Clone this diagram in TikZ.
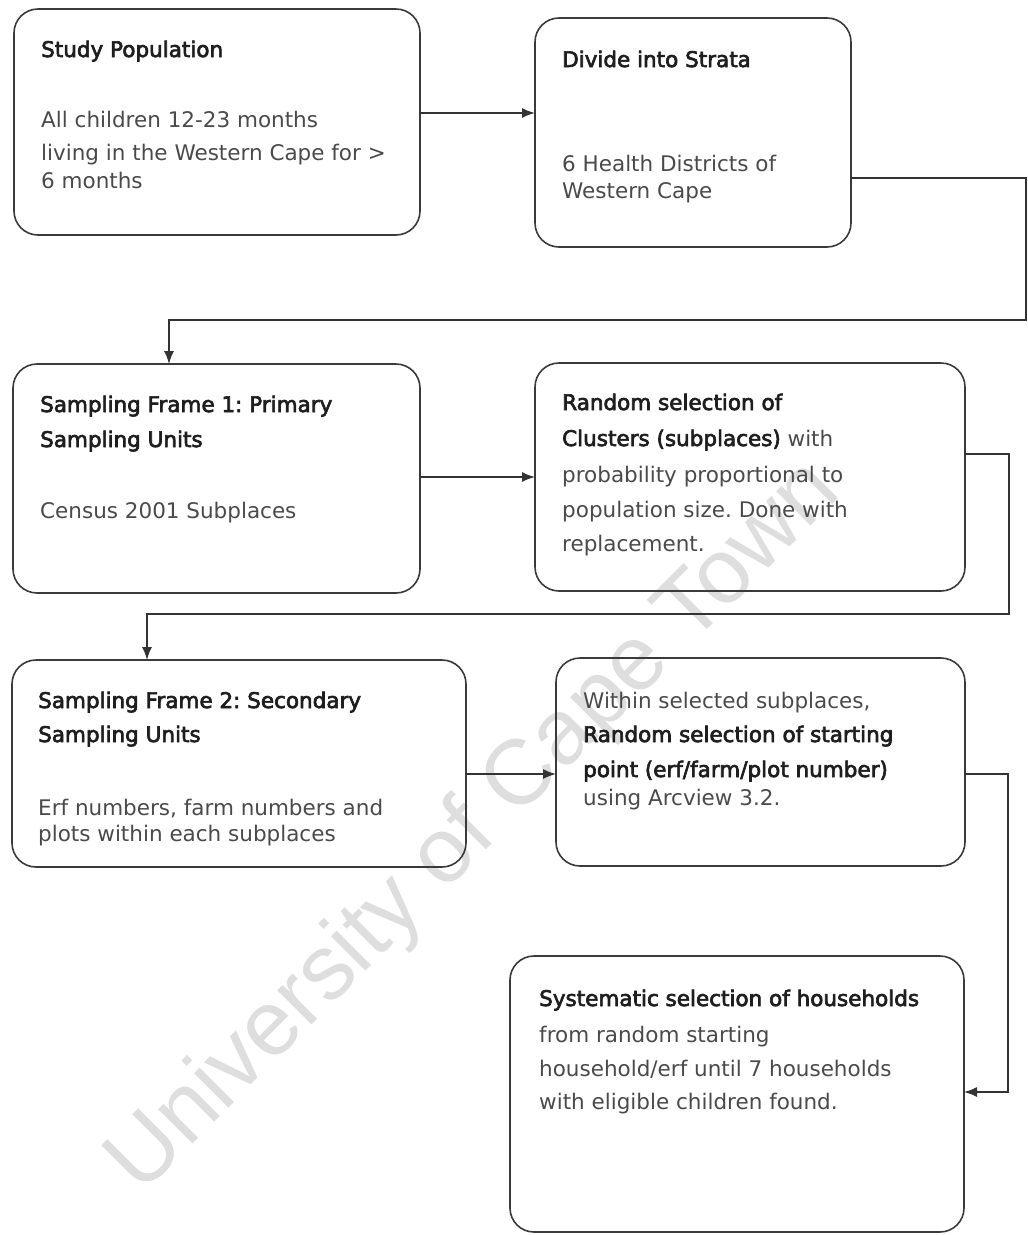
\documentclass[tikz,border=0pt]{standalone}
\usepackage{fontspec}
\setmainfont{DejaVu Sans}
\newfontfamily\tfont[FakeBold=3]{DejaVu Sans}
\newfontfamily\wmfont{Liberation Sans}
\usetikzlibrary{arrows.meta}
\definecolor{boxline}{HTML}{3A3A3A}
\definecolor{conline}{HTML}{333333}
\definecolor{titlecol}{HTML}{1E1E1E}
\definecolor{bodycol}{HTML}{4A4A4A}
\definecolor{wmcol}{HTML}{DEDEDE}
\frenchspacing
\begin{document}
\begin{tikzpicture}[x=1pt,y=-1pt,
  box/.style={draw=boxline, line width=1.6pt, rounded corners=24pt, inner sep=0pt, outer sep=0pt},
  conn/.style={draw=conline, line width=1.5pt, -{Latex[length=13pt,width=10pt]}},
  ttl/.style={anchor=base west, inner sep=0pt, text=titlecol, font=\tfont\fontsize{21.5}{26}\selectfont},
  bdy/.style={anchor=base west, inner sep=0pt, text=bodycol, font=\fontsize{21.5}{26}\selectfont}]
\useasboundingbox (0,0) rectangle (1028,1235);
% watermark
\node[rotate=45, text=wmcol, font=\wmfont\fontsize{92}{100}\selectfont, inner sep=0pt] (wm) at (475,828) {University of Cape Town};
% boxes
\node[box, minimum width=406pt, minimum height=226pt] (b1) at (217,122) {};
\node[box, minimum width=316pt, minimum height=229pt] (b2) at (693,132.5) {};
\node[box, minimum width=407pt, minimum height=229pt] (b3) at (216.5,478.5) {};
\node[box, minimum width=430pt, minimum height=228pt] (b4) at (750,477) {};
\node[box, minimum width=454pt, minimum height=207pt] (b5) at (239,763.5) {};
\node[box, minimum width=409pt, minimum height=208pt] (b6) at (760.5,762) {};
\node[box, minimum width=454pt, minimum height=276pt] (b7) at (737,1094) {};
% texts box 1
\node[ttl] (t1a) at (41,57) {Study Population};
\node[bdy] (t1b) at (41,127) {All children 12-23 months};
\node[bdy] (t1c) at (41,160) {living in the Western Cape for >};
\node[bdy] (t1d) at (41,188) {6 months};
% box 2
\node[ttl] (t2a) at (562,67) {Divide into Strata};
\node[bdy] (t2b) at (562,171) {6 Health Districts of};
\node[bdy] (t2c) at (562,198) {Western Cape};
% box 3
\node[ttl] (t3a) at (40,412) {Sampling Frame 1: Primary};
\node[ttl] (t3b) at (40,447) {Sampling Units};
\node[bdy] (t3c) at (40,518) {Census 2001 Subplaces};
% box 4
\node[ttl] (t4a) at (562,410) {Random selection of};
\node[bdy] (t4b) at (562,446) {{\tfont\color{titlecol}Clusters (subplaces)} with};
\node[bdy] (t4c) at (562,482) {probability proportional to};
\node[bdy] (t4d) at (562,517) {population size. Done with};
\node[bdy] (t4e) at (562,551) {replacement.};
% box 5
\node[ttl] (t5a) at (38,708) {Sampling Frame 2: Secondary};
\node[ttl] (t5b) at (38,742) {Sampling Units};
\node[bdy] (t5c) at (38,815) {Erf numbers, farm numbers and};
\node[bdy] (t5d) at (38,841) {plots within each subplaces};
% box 6
\node[bdy] (t6a) at (583,708) {Within selected subplaces,};
\node[ttl] (t6b) at (583,742) {Random selection of starting};
\node[ttl] (t6c) at (583,777) {point (erf/farm/plot number)};
\node[bdy] (t6d) at (583,805) {using Arcview 3.2.};
% box 7
\node[ttl] (t7a) at (539,1006) {Systematic selection of households};
\node[bdy] (t7b) at (539,1042) {from random starting};
\node[bdy] (t7c) at (539,1076) {household/erf until 7 households};
\node[bdy] (t7d) at (539,1109) {with eligible children found.};
% bend points
\coordinate (k1) at (1026,178);
\coordinate (k2) at (1026,320);
\coordinate (k3) at (169,320);
\coordinate (k4) at (1009,454);
\coordinate (k5) at (1009,614);
\coordinate (k6) at (147,614);
\coordinate (k7) at (1008,774);
\coordinate (k8) at (1008,1092);
% connectors
\draw[conn] (b1.east |- 0,113) -- (b2.west |- 0,113);
\draw[conn] (b2.east |- k1) -- (k1) -- (k2) -- (k3) -- (b3.north -| k3);
\draw[conn] (b3.east |- 0,477) -- (b4.west |- 0,477);
\draw[conn] (b4.east |- k4) -- (k4) -- (k5) -- (k6) -- (b5.north -| k6);
\draw[conn] (b5.east |- 0,774) -- (b6.west |- 0,774);
\draw[conn] (b6.east |- k7) -- (k7) -- (k8) -- (b7.east |- k8);
\end{tikzpicture}
\end{document}
